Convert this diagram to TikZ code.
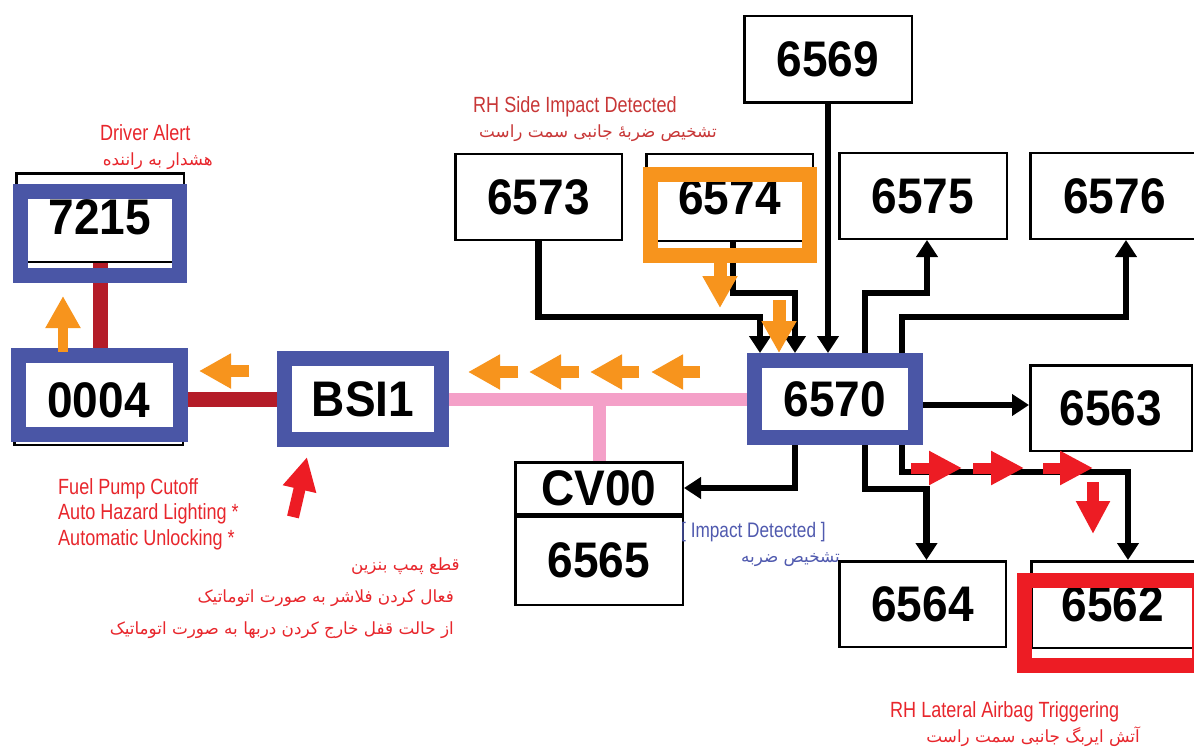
\documentclass[tikz,border=0pt]{standalone}
\usepackage{fontspec}
\setmainfont{Liberation Sans}
\newfontfamily\lab[FakeStretch=0.82]{Liberation Sans}
\newfontfamily\numf[FakeStretch=0.92]{Liberation Sans}
\newfontfamily\fa[Script=Arabic]{DejaVu Sans}
\TeXXeTstate=1
\usetikzlibrary{arrows.meta,calc}
\definecolor{frameblue}{RGB}{74,86,166}
\definecolor{forange}{RGB}{247,148,29}
\definecolor{fred}{RGB}{237,28,36}
\definecolor{darkred}{RGB}{180,28,40}
\definecolor{bpink}{RGB}{244,160,200}
\definecolor{txtred}{RGB}{232,38,44}
\definecolor{txtdred}{RGB}{200,55,55}
\definecolor{txtblue}{RGB}{80,90,175}
\begin{document}
\begin{tikzpicture}[x=1pt,y=-1pt,
  box/.style={draw=black,line width=2.5pt,fill=white,inner sep=0pt,font=\numf\bfseries\fontsize{50}{50}\selectfont},
  bluebox/.style={draw=frameblue,line width=15pt,fill=white,inner sep=0pt,font=\numf\bfseries\fontsize{50}{50}\selectfont},
  frm/.style={draw=#1,line width=15pt,inner sep=0pt},
  conn/.style={draw=black,line width=6.5pt,-{Triangle[width=21pt,length=17pt]}},
  bus/.style={draw=bpink,line width=13pt},
  wire/.style={draw=darkred,line width=15pt},
  flowO/.style={draw=forange,line width=12pt,-{Triangle[width=33pt,length=32pt]}},
  flowR/.style={draw=fred,line width=11pt,-{Triangle[width=32pt,length=33pt]}},
  lbl/.style={inner sep=0pt,font=\lab\fontsize{22}{22}\selectfont},
  fal/.style={inner sep=0pt,font=\fa\fontsize{16.8}{17}\selectfont},
]
\useasboundingbox (0,0) rectangle (1194,749);
\fill[white] (0,0) rectangle (1194,749);

% black boxes
\node[box,minimum width=167.5pt,minimum height=86.5pt] (n6569) at (828,59.5) {6569};
\node[box,minimum width=166.5pt,minimum height=85.5pt] (n6573) at (538.5,197) {6573};
\node[box,minimum width=166.5pt,minimum height=86.5pt] (n6574) at (729.5,197.5) {6574};
\node[box,minimum width=167.5pt,minimum height=85.5pt] (n6575) at (923,196) {6575};
\node[box,minimum width=168.5pt,minimum height=85.5pt] (n6576) at (1114.5,196) {6576};
\node[box,minimum width=161.5pt,minimum height=85.5pt] (n6563) at (1111,408) {6563};
\node[box,minimum width=166.5pt,minimum height=85.5pt] (n6564) at (922.5,604) {6564};
\node[box,minimum width=163.5pt,minimum height=86.5pt] (n6562) at (1113,604.5) {6562};
\node[box,minimum width=167.5pt,minimum height=51.5pt] (ncv) at (599,488) {CV00};
\node[box,minimum width=167.5pt,minimum height=88.5pt] (n6565) at (599,560.5) {6565};
\node[box,minimum width=167.5pt,minimum height=88.5pt] (n7215) at (100,217.5) {7215};
\node[box,minimum width=168.5pt,minimum height=88.5pt] (n0004) at (98.5,400.5) {0004};

% blue framed nodes
\node[bluebox,minimum width=157pt,minimum height=81pt] (nBSI) at (363,399) {BSI1};
\node[bluebox,minimum width=161pt,minimum height=77pt] (n6570) at (835,399) {6570};

% pink bus
\draw[bus] (nBSI.east) -- (n6570.west);
\draw[bus] (ncv.north) -- (ncv.north |- nBSI.east);

% red wires
\draw[wire] (n7215.south) -- (n7215.south |- n0004.north);
\draw[wire] (n0004.east |- nBSI.west) -- (nBSI.west);

% black connectors
\draw[conn] (n6573.south) -- ++(0,76) -| ([xshift=-75pt]n6570.north);
\draw[conn] ([xshift=3.5pt]n6574.south) -- ++(0,51) -| ([xshift=-40pt]n6570.north);
\draw[conn] (n6569.south) -- (n6569.south |- n6570.north);
\draw[conn] ([xshift=30pt]n6570.north) -- ++(0,-60) -| ([xshift=4pt]n6575.south);
\draw[conn] ([xshift=67pt]n6570.north) -- ++(0,-36) -| ([xshift=11.5pt]n6576.south);
\draw[conn] ([yshift=-6pt]n6570.east) -- ([yshift=-6pt]n6570.east -| n6563.west);
\draw[conn] ([xshift=-40pt]n6570.south) |- (ncv.east);
\draw[conn] ([xshift=30pt]n6570.south) -- ++(0,44) -| ([xshift=4pt]n6564.north);
\draw[conn] ([xshift=67pt]n6570.south) -- ++(0,27) -| ([xshift=15pt]n6562.north);

% highlight frames
\node[frm=frameblue,minimum width=159pt,minimum height=84pt] (f7215) at (100,233.5) {};
\node[frm=frameblue,minimum width=162pt,minimum height=79pt] (f0004) at (99.5,395) {};
\node[frm=forange,minimum width=159pt,minimum height=81pt] (f6574) at (730,215) {};
\node[frm=fred,minimum width=175pt,minimum height=85pt] (f6562) at (1112,623) {};

% flow arrows
\draw[flowO] (518,372) -- (468,372);
\draw[flowO] (579,372) -- (529,372);
\draw[flowO] (639,372) -- (590,372);
\draw[flowO] (700,372) -- (651,372);
\draw[flowO] (249,371) -- (199,371);
\draw[flowO,line width=10pt] (63,352) -- (63,296);
\draw[flowO,line width=13pt] (f6574.south -| 720,0) -- (720,308);
\draw[flowO,line width=13pt] (779,300) -- ([xshift=-56pt]n6570.north);
\draw[flowR] (911,468) -- (962,468);
\draw[flowR] (973,468) -- (1024,468);
\draw[flowR] (1043,468) -- (1093,468);
\draw[flowR,line width=12pt] (1093,482) -- (1093,534);
\draw[flowR,line width=12pt] (293,517) -- (307,457);

% labels
\node[lbl,text=txtred,anchor=base west] (tDA) at (100,141) {Driver Alert};
\node[fal,text=txtred,anchor=base east] (tDAfa) at (213,165) {\beginR هشدار به راننده\endR};
\node[lbl,text=txtdred,anchor=base west] (tRH) at (473,113) {RH Side Impact Detected};
\node[fal,text=txtdred,anchor=base east] (tRHfa) at (717,138) {\beginR تشخیص ضربهٔ جانبی سمت راست\endR};
\node[lbl,text=txtred,anchor=base west] (tF1) at (58,494) {Fuel Pump Cutoff};
\node[lbl,text=txtred,anchor=base west] (tF2) at (58,519) {Auto Hazard Lighting *};
\node[lbl,text=txtred,anchor=base west] (tF3) at (58,545) {Automatic Unlocking *};
\node[fal,text=txtred,anchor=base east] (tP1) at (460,570) {\beginR قطع پمپ بنزین\endR};
\node[fal,text=txtred,anchor=base east] (tP2) at (454,602) {\beginR فعال کردن فلاشر به صورت اتوماتیک\endR};
\node[fal,text=txtred,anchor=base east] (tP3) at (454,634) {\beginR از حالت قفل خارج کردن دربها به صورت اتوماتیک\endR};
\node[lbl,text=txtblue,anchor=base west,font=\lab\fontsize{21}{21}\selectfont] (tID) at (681,537) {[ Impact Detected ]};
\node[fal,text=txtblue,anchor=base east] (tIDfa) at (840,562) {\beginR تشخیص ضربه\endR};
\node[lbl,text=txtred,anchor=base west] (tAB) at (890,717) {RH Lateral Airbag Triggering};
\node[fal,text=txtred,anchor=base east] (tABfa) at (1140,742) {\beginR آتش ایربگ جانبی سمت راست\endR};
\end{tikzpicture}
\end{document}
